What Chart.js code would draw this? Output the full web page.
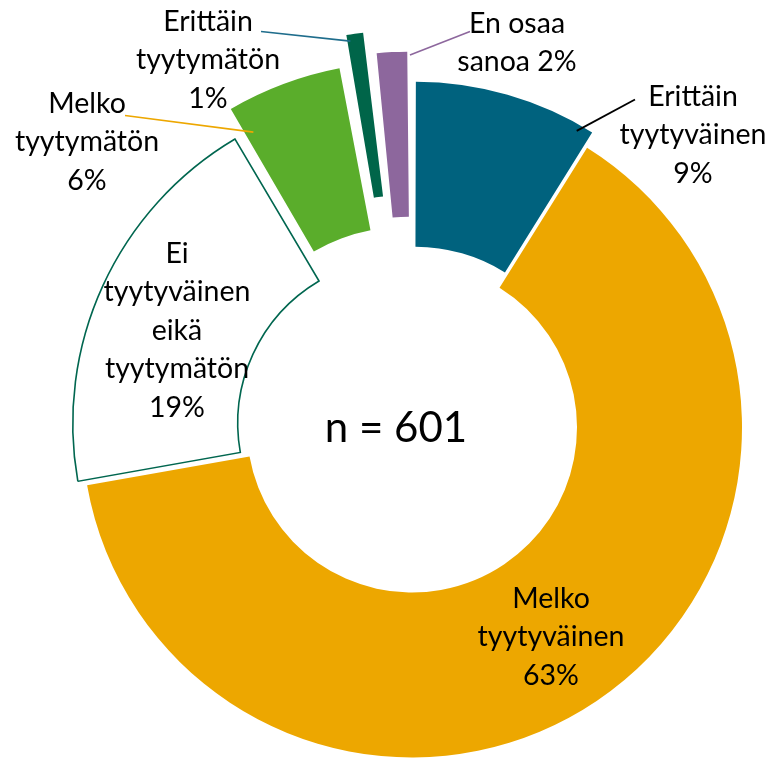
<!DOCTYPE html>
<html>
<head>
<meta charset="utf-8">
<script src="https://cdn.jsdelivr.net/npm/chart.js@4.4.0/dist/chart.umd.min.js"></script>
<style>
  html, body { margin: 0; padding: 0; background: #fff; }
  #wrap { position: relative; width: 771px; height: 758px; }
</style>
</head>
<body>
<div id="wrap"><canvas id="donut"></canvas></div>
<script>
// ── DATA ──────────────────────────────────────
const categories = [
  'Erittäin tyytyväinen', 'Melko tyytyväinen', 'Ei tyytyväinen eikä tyytymätön',
  'Melko tyytymätön', 'Erittäin tyytymätön', 'En osaa sanoa'
];
const values = [8.9, 63.3, 19.3, 5.6, 1.2, 1.7];   // % of respondents
const labelLines = [
  ['Erittäin', 'tyytyväinen', '{p}'],
  ['Melko', 'tyytyväinen', '{p}'],
  ['Ei', 'tyytyväinen', 'eikä', 'tyytymätön', '{p}'],
  ['Melko', 'tyytymätön', '{p}'],
  ['Erittäin', 'tyytymätön', '{p}'],
  ['En osaa', 'sanoa {p}']
];
const sampleText = 'n = 601';

// ── STYLE ─────────────────────────────────────
const COLORS   = ['#00627E', '#EDA700', '#FFFFFF', '#5AAD2B', '#006549', '#8D679D'];
const BORDERS  = ['#00627E', '#EDA700', '#00664F', '#5AAD2B', '#006549', '#8D679D'];
const BORDER_W = [0, 0, 1.6, 0, 0, 0];
const OFFSETS  = [44, 0, 38, 89, 141, 97];     // explode amount per slice
const FONT     = 'Lato, "Open Sans", sans-serif';
const LINE_H   = 38.5;
// label anchor (first baseline) relative to the doughnut centre
const LABEL_POS = [[281, -322], [139, 180], [-235, -165], [-325, -315], [-204, -397], [105, -395]];
// leader line: t = position along slice, r = position across ring, end = offset from label anchor
const LEADERS = [
  { t: 0.92, r: 0.96, end: [-58, -6], color: '#000000', w: 1.8 },
  null,
  null,
  { t: 0.09, r: 0.81, end: [38, 3],   color: '#EDA700', w: 1.6 },
  { t: 0.30, r: 0.96, end: [53, 1],   color: '#1F6D8C', w: 1.6 },
  { t: 0.98, r: 0.98, end: [-47, -1], color: '#8D679D', w: 1.6 }
];

// ── LABEL PLUGIN ──────────────────────────────
function arcPoint(el, t, r) {
  const o   = (el.options.offset || 0) / 4;
  const fix = 1 - Math.sin(Math.min(Math.PI, el.circumference || 0));
  const mid = (el.startAngle + el.endAngle) / 2;
  const a   = el.startAngle + t * (el.endAngle - el.startAngle);
  const rr  = el.innerRadius + o * fix + r * (el.outerRadius - el.innerRadius);
  return [el.x + Math.cos(mid) * o + Math.cos(a) * rr,
          el.y + Math.sin(mid) * o + Math.sin(a) * rr];
}

const labelPlugin = {
  id: 'sliceLabels',
  afterDatasetsDraw(chart) {
    const { ctx } = chart;
    const arcs = chart.getDatasetMeta(0).data;
    const cx = arcs[0].x, cy = arcs[0].y;
    ctx.save();

    // leader lines
    arcs.forEach((el, i) => {
      const L = LEADERS[i];
      if (!L) return;
      const [x0, y0] = arcPoint(el, L.t, L.r);
      ctx.beginPath();
      ctx.strokeStyle = L.color;
      ctx.lineWidth = L.w;
      ctx.moveTo(x0, y0);
      ctx.lineTo(cx + LABEL_POS[i][0] + L.end[0], cy + LABEL_POS[i][1] + L.end[1]);
      ctx.stroke();
    });

    // slice labels
    ctx.fillStyle = '#000';
    ctx.textAlign = 'center';
    ctx.textBaseline = 'alphabetic';
    ctx.font = '28.5px ' + FONT;
    arcs.forEach((el, i) => {
      const pct = Math.round(values[i]) + '%';
      labelLines[i].forEach((ln, k) => {
        ctx.fillText(ln.replace('{p}', pct), cx + LABEL_POS[i][0], cy + LABEL_POS[i][1] + k * LINE_H);
      });
    });

    // sample size in the hole
    ctx.font = '42px ' + FONT;
    ctx.fillText(sampleText, cx - 16, cy + 14);
    ctx.restore();
  }
};

// ── CHART ─────────────────────────────────────
new Chart(document.getElementById('donut'), {
  type: 'doughnut',
  data: {
    labels: categories,
    datasets: [{
      data: values,
      backgroundColor: COLORS,
      borderColor: BORDERS,
      borderWidth: BORDER_W,
      borderJoinStyle: 'miter',
      offset: OFFSETS,
      hoverOffset: 0,
      clip: false
    }]
  },
  options: {
    responsive: true,
    maintainAspectRatio: false,
    animation: false,
    radius: 330,
    cutout: '50%',
    rotation: 0,
    layout: { padding: { left: 53, right: 0, top: 97, bottom: 0 } },
    plugins: { legend: { display: false }, tooltip: { enabled: false } },
    events: []
  },
  plugins: [labelPlugin]
});
</script>
</body>
</html>
